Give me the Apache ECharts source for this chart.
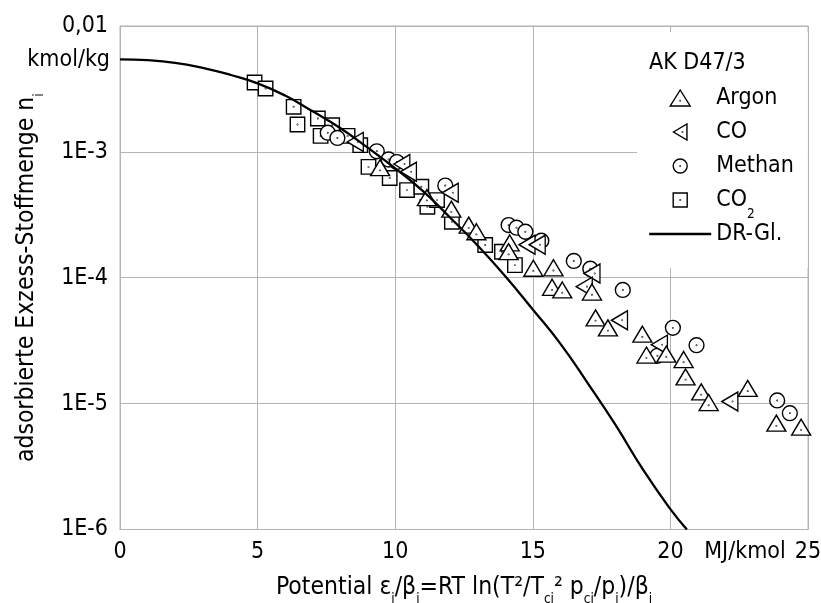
<!DOCTYPE html>
<html><head><meta charset="utf-8">
<script src="https://cdn.jsdelivr.net/npm/echarts@6/dist/echarts.min.js"></script>
<style>html,body{margin:0;padding:0;background:#fff}#c{width:821px;height:603px}</style>
</head><body><div id="c"></div>
<script>
// ---- data ----
const xTickLabels = ['0', '5', '10', '15', '20', '25'];
const yTickLabels = ['1E-6', '1E-5', '1E-4', '1E-3', '0,01'];
const legendNames = ['Argon', 'CO', 'Methan', 'CO2', 'DR-Gl.'];

const argon = [
  [9.45, 7.5e-4], [11.15, 4.33e-4], [12.04, 3.51e-4], [12.67, 2.62e-4], [12.95, 2.32e-4],
  [14.16, 1.89e-4], [14.12, 1.61e-4], [15.02, 1.19e-4], [15.75, 1.20e-4], [15.70, 8.4e-5],
  [16.07, 8.0e-5], [17.15, 7.7e-5], [17.28, 4.8e-5], [17.73, 4.0e-5], [18.98, 3.56e-5],
  [19.13, 2.43e-5], [19.85, 2.47e-5], [20.48, 2.24e-5], [20.55, 1.63e-5], [21.12, 1.24e-5],
  [21.39, 1.02e-5], [22.81, 1.32e-5], [23.85, 7.0e-6], [24.75, 6.5e-6]
];
const co = [
  [8.55, 1.2e-3], [10.24, 8.0e-4], [10.48, 6.95e-4], [12.0, 4.73e-4], [14.79, 1.83e-4],
  [15.16, 1.83e-4], [17.15, 1.08e-4], [16.87, 8.5e-5], [18.15, 4.6e-5], [19.6, 2.94e-5],
  [22.16, 1.04e-5]
];
const methan = [
  [7.55, 1.42e-3], [7.90, 1.29e-3], [9.33, 1.01e-3], [9.76, 8.7e-4], [10.06, 8.3e-4],
  [11.82, 5.4e-4], [14.12, 2.62e-4], [14.41, 2.5e-4], [14.73, 2.32e-4], [15.31, 1.97e-4],
  [16.49, 1.36e-4], [17.09, 1.18e-4], [18.27, 8.0e-5], [20.09, 4.0e-5], [19.53, 2.4e-5],
  [20.95, 2.91e-5], [23.88, 1.06e-5], [24.34, 8.4e-6]
];
const co2 = [
  [4.89, 3.56e-3], [5.29, 3.19e-3], [6.31, 2.28e-3], [6.45, 1.65e-3], [7.19, 1.84e-3],
  [7.71, 1.63e-3], [7.29, 1.34e-3], [8.27, 1.34e-3], [8.73, 1.13e-3], [9.03, 7.6e-4],
  [9.80, 6.2e-4], [10.43, 4.97e-4], [10.95, 5.28e-4], [11.17, 3.66e-4], [11.52, 4.14e-4],
  [12.06, 2.78e-4], [13.27, 1.82e-4], [13.88, 1.61e-4], [14.35, 1.26e-4]
];
const drCurve = [
  [0, 5.43e-3], [1, 5.35e-3], [2, 5.1e-3], [3, 4.65e-3], [4, 4.1e-3], [5, 3.5e-3],
  [6, 2.8e-3], [7, 2.1e-3], [8, 1.55e-3], [9, 1.08e-3], [10, 7.4e-4], [11, 4.9e-4],
  [12, 3.0e-4], [13, 1.8e-4], [14, 1.03e-4], [15, 5.6e-5], [16, 3.0e-5], [17, 1.45e-5],
  [18, 6.8e-6], [19, 3.0e-6], [20, 1.45e-6], [20.6, 1.0e-6]
];

// ---- styling ----
const FONT = "'DejaVu Sans Condensed','Liberation Sans Narrow','DejaVu Sans',sans-serif";
const GRID = '#b4b4b4';
const FS = 23;
const TFS = 24.5;
const dot = (cx, cy) => `M${cx + 0.25},${cy} A0.25,0.25 0 1,1 ${cx - 0.25},${cy} A0.25,0.25 0 1,1 ${cx + 0.25},${cy} Z`;
const sym = {
  up: 'path://M0,0 L10,16 L-10,16 Z ' + dot(0, 10.7),
  left: 'path://M0,0 L16,-9.5 L16,9.5 Z ' + dot(10.7, 0),
  circle: 'path://M-8,-8 M8,8 M7,0 A7,7 0 1,1 -7,0 A7,7 0 1,1 7,0 Z ' + dot(0, 0),
  square: 'path://M-8,-8 M8,8 M-7,-7 L7,-7 L7,7 L-7,7 Z ' + dot(0, 0)
};
const markerStyle = { color: '#fff', borderColor: '#000', borderWidth: 1.4, opacity: 1 };
const subStyle = { fontSize: 13.5, lineHeight: 13.5, verticalAlign: 'bottom', fontFamily: FONT, color: '#000' };

const chart = echarts.init(document.getElementById('c'));
chart.setOption({
  animation: false,
  backgroundColor: '#fff',
  grid: {
    left: 120, right: 13, top: 26, bottom: 73.5, show: true, borderColor: GRID, borderWidth: 1,
    containLabel: false, outerBoundsMode: 'none'
  },
  title: {
    text: 'AK D47/3', left: 649, top: 51.5, padding: 0,
    textStyle: { fontSize: FS, fontWeight: 'normal', fontFamily: FONT, color: '#000', lineHeight: 23 }
  },
  legend: {
    data: legendNames.map(n => n === 'DR-Gl.'
      ? { name: n, itemStyle: { color: 'rgba(0,0,0,0)', borderColor: 'rgba(0,0,0,0)', borderWidth: 0, opacity: 0 } }
      : n),
    orient: 'vertical', left: 637, top: 32,
    padding: [45, 14, 13, 11], backgroundColor: '#fff',
    itemWidth: 62, itemHeight: 16, itemGap: -8, selectedMode: false,
    itemStyle: { color: '#fff', borderColor: '#000', borderWidth: 1.4 },
    lineStyle: { width: 2.4, color: '#000' },
    formatter: n => n === 'CO2' ? 'CO{sub|2}' : n,
    textStyle: { fontSize: FS, fontFamily: FONT, color: '#000', lineHeight: 42, rich: { sub: subStyle } }
  },
  xAxis: {
    type: 'value', min: 0, max: 25, interval: 5,
    axisLine: { show: true, lineStyle: { color: GRID, width: 1 } },
    axisTick: { show: false },
    splitLine: { show: true, lineStyle: { color: GRID, width: 1 } },
    axisLabel: {
      margin: 11, fontSize: FS, fontFamily: FONT, color: '#000', lineHeight: 23,
      showMinLabel: true, showMaxLabel: true,
      formatter: v => xTickLabels[Math.round(v / 5)] || ''
    },
    name: 'Potential ε{s|i}/β{s|i}=RT ln(T²/T{s|ci}² p{s|ci}/p{s|i})/β{s|i}',
    nameLocation: 'middle', nameGap: 25.5,
    nameTextStyle: { fontSize: TFS, fontFamily: FONT, color: '#000', lineHeight: 38, rich: { s: subStyle } }
  },
  yAxis: {
    type: 'log', logBase: 10, min: 1e-6, max: 1e-2, interval: 1,
    axisLine: { show: true, lineStyle: { color: GRID, width: 1 } },
    axisTick: { show: false },
    minorTick: { show: false },
    splitLine: { show: true, lineStyle: { color: GRID, width: 1 } },
    axisLabel: {
      margin: 12, fontSize: FS, fontFamily: FONT, color: '#000',
      showMinLabel: true, showMaxLabel: true,
      formatter: v => yTickLabels[Math.round(Math.log10(v)) + 6] || ''
    },
    name: 'adsorbierte Exzess-Stoffmenge n{s|i}',
    nameLocation: 'middle', nameGap: 74,
    nameTextStyle: { fontSize: TFS, fontFamily: FONT, color: '#000', lineHeight: 38, rich: { s: subStyle } }
  },
  graphic: [
    { type: 'text', x: 110, y: 60, style: { text: 'kmol/kg', align: 'right', verticalAlign: 'middle', fontSize: FS, fontFamily: FONT, fill: '#000' } },
    { type: 'text', x: 745, y: 552, style: { text: 'MJ/kmol', align: 'center', verticalAlign: 'middle', fontSize: FS, fontFamily: FONT, fill: '#000' } }
  ],
  series: [
    { type: 'scatter', name: 'CO2', data: co2, symbol: sym.square, symbolSize: 16.5, itemStyle: markerStyle, z: 2 },
    { type: 'scatter', name: 'Methan', data: methan, symbol: sym.circle, symbolSize: 17, itemStyle: markerStyle, z: 2 },
    { type: 'scatter', name: 'CO', data: co, symbol: sym.left, symbolSize: [16, 19], itemStyle: markerStyle, z: 2 },
    { type: 'scatter', name: 'Argon', data: argon, symbol: sym.up, symbolSize: [19, 16], itemStyle: markerStyle, z: 2 },
    { type: 'line', name: 'DR-Gl.', data: drCurve, symbol: 'none', smooth: true, clip: true,
      lineStyle: { color: '#000', width: 2.3 }, itemStyle: { color: '#000' }, z: 4 }
  ]
});
</script>
</body></html>
